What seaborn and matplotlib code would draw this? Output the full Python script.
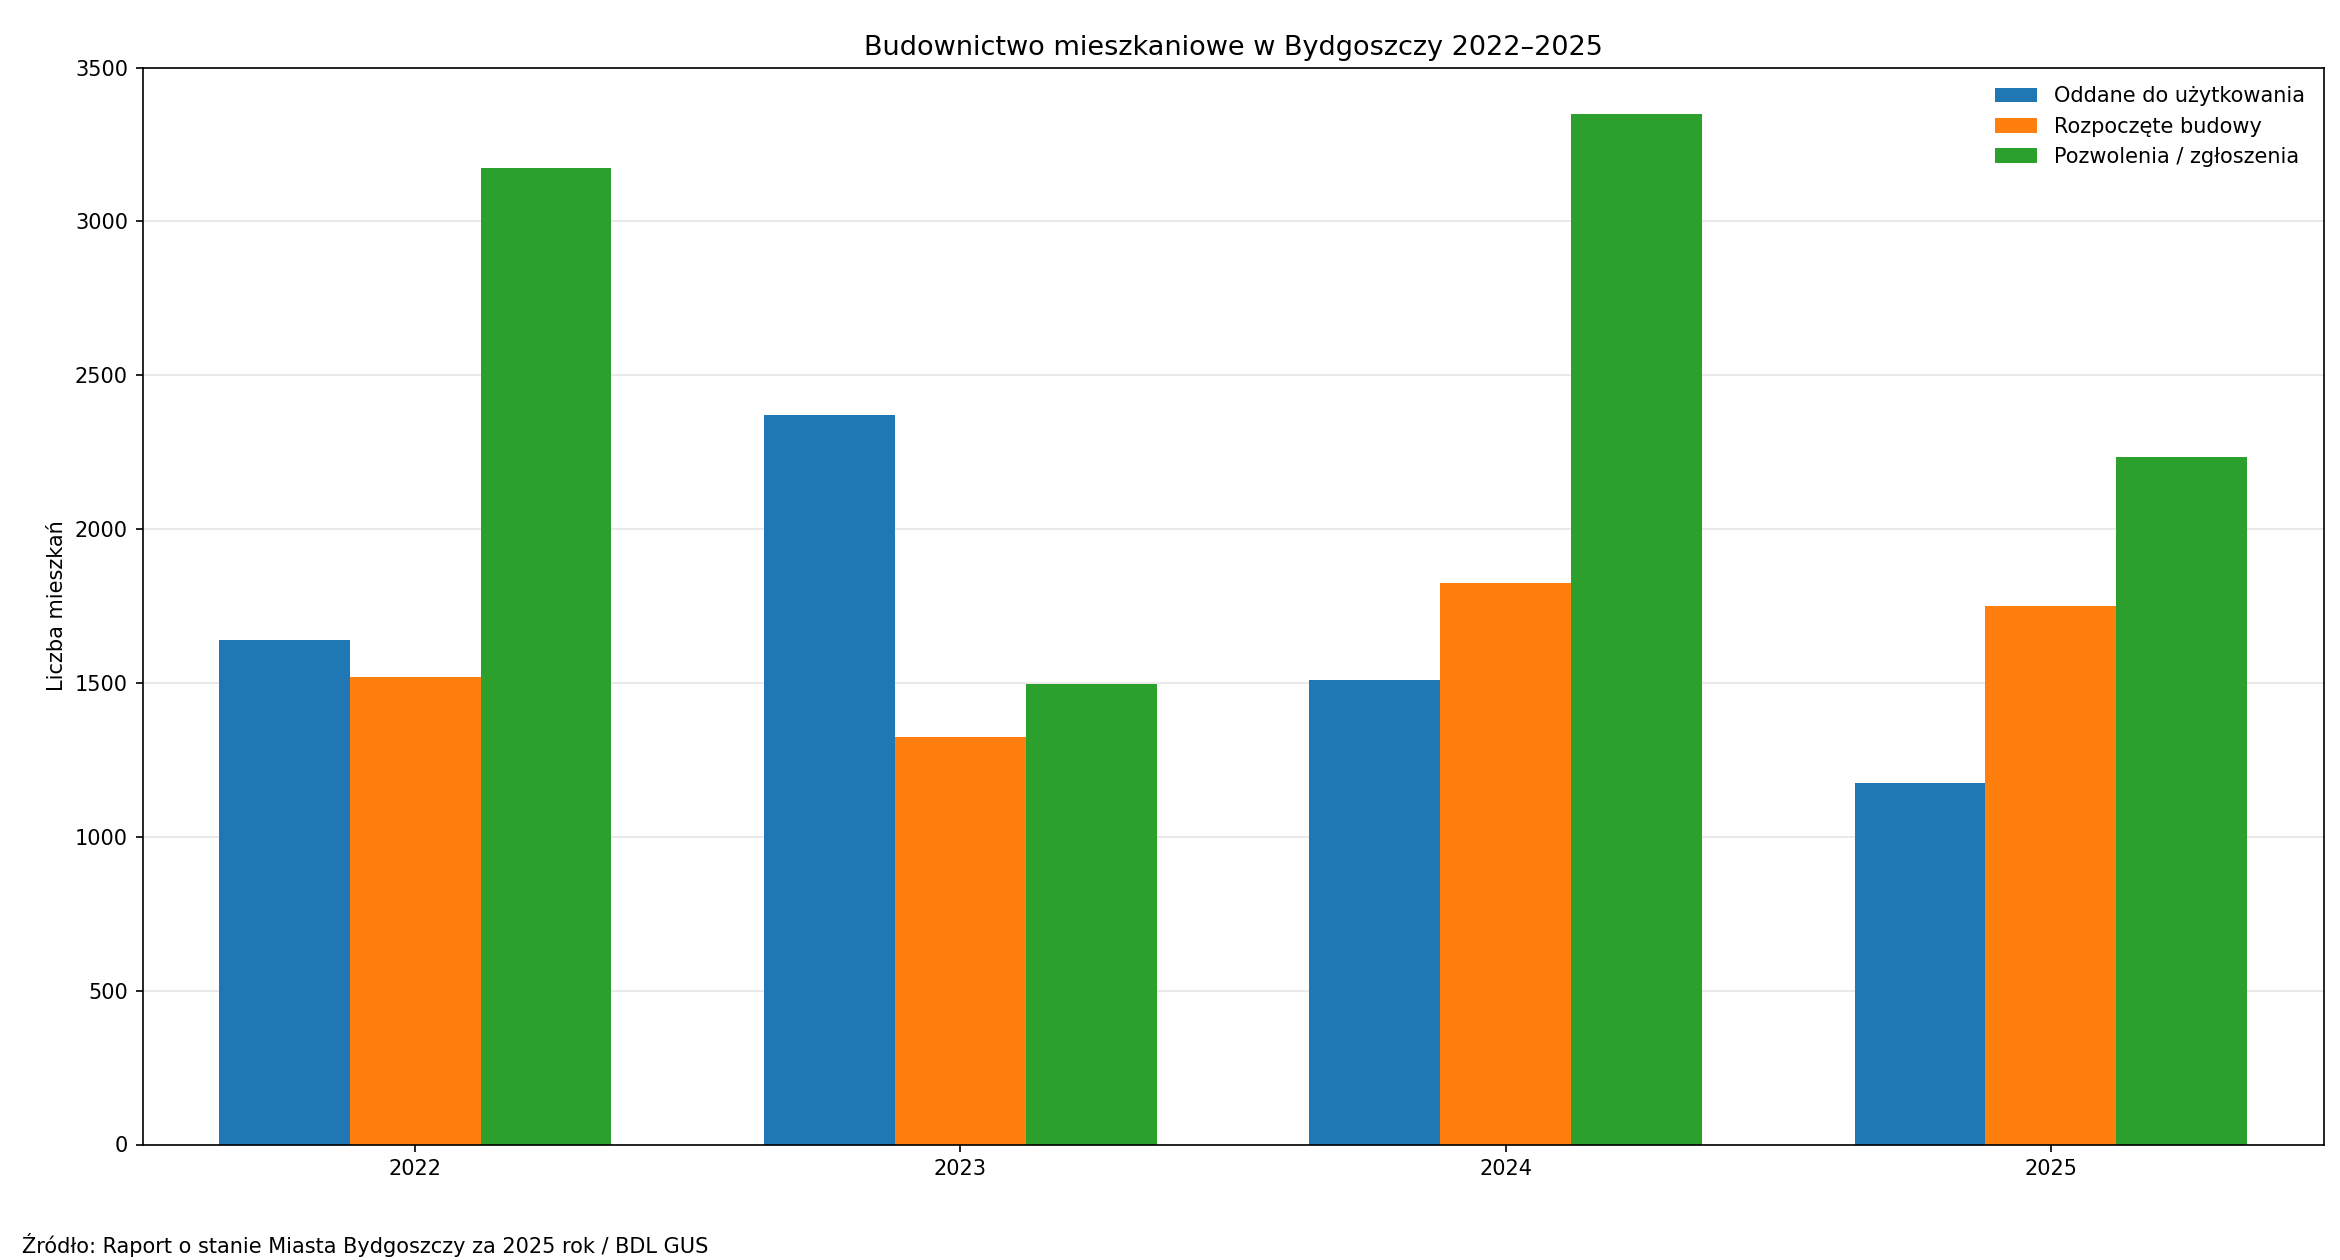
import matplotlib
matplotlib.use("Agg")
import matplotlib.pyplot as plt
import seaborn as sns
import pandas as pd

years = ["2022", "2023", "2024", "2025"]
series = ["Oddane do użytkowania", "Rozpoczęte budowy", "Pozwolenia / zgłoszenia"]
oddane = [1640, 2370, 1510, 1175]
rozpoczete = [1520, 1325, 1825, 1750]
pozwolenia = [3175, 1495, 3350, 2235]

rows = []
for s, vals in zip(series, [oddane, rozpoczete, pozwolenia]):
    for y, v in zip(years, vals):
        rows.append({"Rok": y, "Seria": s, "Wartość": v})
df = pd.DataFrame(rows)

plt.rcParams['font.family'] = ['DejaVu Sans']
fig = plt.figure(figsize=(15.6, 8.4), dpi=150)
ax = fig.add_axes([95/1560, 1-763/840, (1549-95)/1560, (763-45)/840])
sns.barplot(data=df, x="Rok", y="Wartość", hue="Seria", ax=ax, width=0.72, gap=0,
            palette=["#1f77b4", "#ff7f0e", "#2ca02c"], saturation=1, zorder=2)
ax.set_ylim(0, 3500)
ax.set_xlim(-0.5, 3.5)
ax.set_xlabel("")
ax.set_ylabel("Liczba mieszkań")
ax.set_title("Budownictwo mieszkaniowe w Bydgoszczy 2022–2025", fontsize=13)
ax.yaxis.grid(True, color="#e6e6e6", linewidth=0.8, zorder=0)
ax.set_axisbelow(True)
ax.legend(frameon=False, loc="upper right", title=None)
fig.text(15/1560, 1-830/840, "Źródło: Raport o stanie Miasta Bydgoszczy za 2025 rok / BDL GUS", fontsize=10, va="center")
fig.savefig("out.png", dpi=150)
